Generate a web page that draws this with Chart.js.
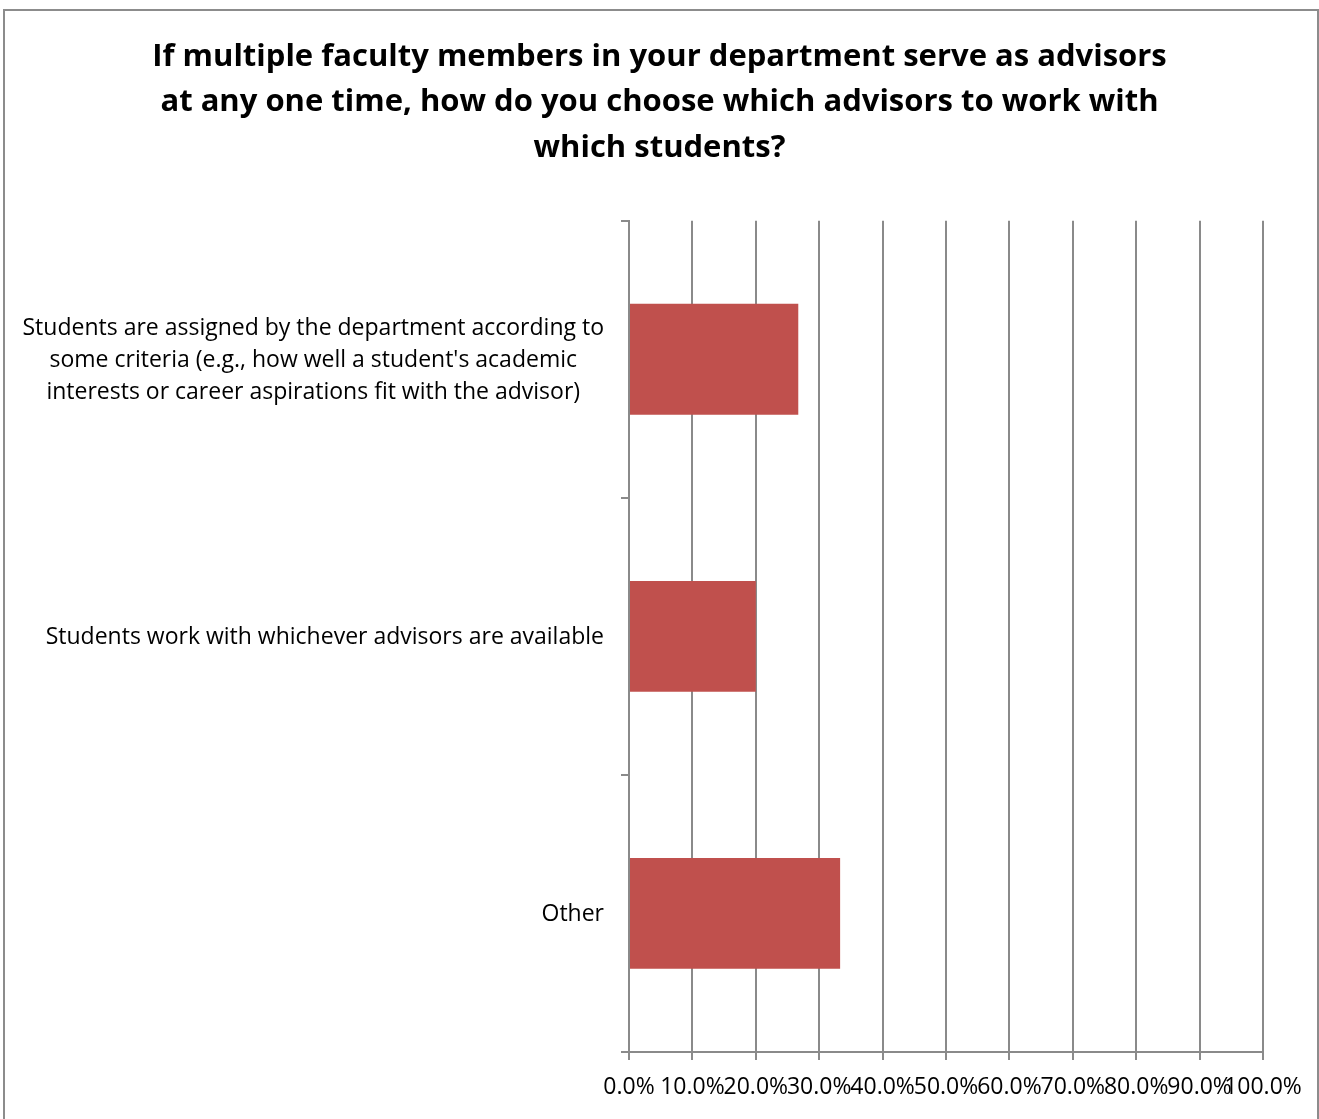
<!DOCTYPE html>
<html>
<head>
<meta charset="utf-8">
<script src="https://cdn.jsdelivr.net/npm/chart.js@4"></script>
<style>
  body { margin: 0; background: #fff; }
  #frame { position: absolute; left: 3px; top: 9px; width: 1312px; height: 1120px; border: 2px solid #8c8c8c; border-bottom: none; }
  #wrap { position: absolute; left: 0; top: 0; width: 1319px; height: 1119px; }
</style>
</head>
<body>
<div id="frame"></div>
<div id="wrap"><canvas id="myChart" width="1319" height="1119"></canvas></div>
<script>
var categories = [
    ['Students are assigned by the department according to', "some criteria (e.g., how well a student's academic", 'interests or career aspirations fit with the advisor)'],
    ['Students work with whichever advisors are available'],
    ['Other']
];
var shares = [0.267, 0.2, 0.333];
var tickValues = [0, 0.1, 0.2, 0.3, 0.4, 0.5, 0.6, 0.7, 0.8, 0.9, 1.0];

var labelFont = '23px "Open Sans"';
var lineGrey = '#8a8a8a';

// draws the category labels: each label's lines centred on each other, block right aligned
var categoryLabels = {
    id: 'categoryLabels',
    afterDraw: function(chart) {
        var ctx = chart.ctx;
        var y = chart.scales.y;
        ctx.save();
        ctx.font = labelFont;
        ctx.fillStyle = '#000';
        ctx.textAlign = 'center';
        ctx.textBaseline = 'middle';
        var lineH = 32;
        categories.forEach(function(lines, i) {
            var widest = 0;
            lines.forEach(function(l) { widest = Math.max(widest, ctx.measureText(l).width); });
            var cx = y.right - 25 - widest / 2;
            var cy = y.getPixelForValue(i) + 1;
            lines.forEach(function(l, k) {
                ctx.fillText(l, cx, cy + (k - (lines.length - 1) / 2) * lineH);
            });
        });
        ctx.restore();
    }
};

var ctx = document.getElementById('myChart').getContext('2d');
var myChart = new Chart(ctx, {
    type: 'bar',
    data: {
        labels: categories.map(function(c) { return c.join(' '); }),
        datasets: [{
            data: shares,
            backgroundColor: '#c0504d',
            borderWidth: 0,
            barPercentage: 0.4,
            categoryPercentage: 1
        }]
    },
    options: {
        indexAxis: 'y',
        responsive: false,
        animation: false,
        layout: { padding: 0 },
        plugins: {
            legend: { display: false },
            tooltip: { enabled: false },
            title: {
                display: true,
                text: ['If multiple faculty members in your department serve as advisors',
                       'at any one time, how do you choose which advisors to work with',
                       'which students?'],
                font: { family: 'Open Sans', size: 31, weight: 'bold', lineHeight: 1.47 },
                color: '#000',
                padding: { top: 34, bottom: 50 }
            }
        },
        scales: {
            x: {
                min: 0,
                max: 1,
                afterBuildTicks: function(scale) {
                    scale.ticks = tickValues.map(function(v) { return { value: v }; });
                },
                afterFit: function(scale) { scale.height = 67; },
                ticks: {
                    callback: function(v) { return (v * 100).toFixed(1) + '%'; },
                    font: { family: 'Open Sans', size: 23 },
                    color: '#000',
                    maxRotation: 0,
                    autoSkip: false,
                    padding: 14
                },
                grid: { color: lineGrey, lineWidth: 2, tickLength: 8 },
                border: { color: lineGrey, width: 2 }
            },
            y: {
                offset: true,
                afterFit: function(scale) { scale.width = 629; },
                ticks: { color: 'rgba(0,0,0,0)', font: { family: 'Open Sans', size: 19 } },
                grid: { offset: true, drawOnChartArea: false, color: lineGrey, lineWidth: 2, tickLength: 8 },
                border: { color: lineGrey, width: 2 }
            },
            // empty right-hand margin so the title stays centred on the whole chart
            margin: {
                type: 'linear',
                position: 'right',
                afterFit: function(scale) { scale.width = 56; },
                ticks: { display: false },
                grid: { display: false },
                border: { display: false }
            }
        }
    },
    plugins: [categoryLabels]
});
</script>
</body>
</html>
